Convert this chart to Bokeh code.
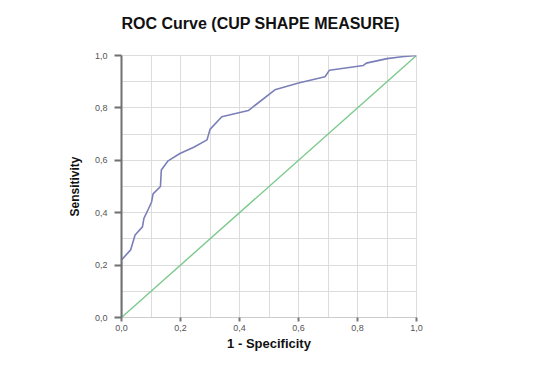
from bokeh.plotting import figure
from bokeh.models import Range1d, FixedTicker, CustomJSTickFormatter, Title
from bokeh.embed import file_html
from bokeh.resources import INLINE

# ROC curve (CUP SHAPE MEASURE) values
fpr = [0.0, 0.0, 0.031, 0.046, 0.071, 0.076, 0.092, 0.102, 0.107, 0.132, 0.135,
       0.158, 0.198, 0.245, 0.29, 0.30, 0.34, 0.43, 0.52, 0.60, 0.69, 0.705,
       0.82, 0.83, 0.90, 0.95, 1.0]
tpr = [0.0, 0.22, 0.258, 0.315, 0.346, 0.378, 0.416, 0.441, 0.472, 0.50, 0.563,
       0.598, 0.626, 0.65, 0.678, 0.718, 0.766, 0.79, 0.869, 0.895, 0.919, 0.944,
       0.962, 0.971, 0.988, 0.995, 1.0]
ref_x = [0.0, 1.0]
ref_y = [0.0, 1.0]

major_ticks = [0.0, 0.2, 0.4, 0.6, 0.8, 1.0]
grid_ticks = [0.0, 0.1, 0.2, 0.3, 0.4, 0.5, 0.6, 0.7, 0.8, 0.9, 1.0]

title_text = "ROC Curve (CUP SHAPE MEASURE)"
x_label = "1 - Specificity"
y_label = "Sensitivity"

FONT = "Liberation Sans"

p = figure(width=525, height=353, output_backend="svg", toolbar_location=None,
           x_range=Range1d(0, 1), y_range=Range1d(0, 1),
           min_border_left=121, min_border_right=109,
           min_border_top=5, min_border_bottom=33)
p.background_fill_color = "white"
p.border_fill_color = "white"
p.outline_line_color = "#dcdcdc"

# top padding (outermost title slot)
p.title.text = " "
p.title.text_font_size = "8px"
p.title.standoff = 0

# gap between title and frame
p.add_layout(Title(text=" ", text_font_size="19px", standoff=0), "above")
# the visible title
p.add_layout(Title(text=title_text, text_font=FONT, text_font_style="bold",
                   text_font_size="16px", text_color="#111111",
                   align="left", offset=0, standoff=2), "above")

# grid every 0.1
for g in (p.xgrid, p.ygrid):
    g.ticker = FixedTicker(ticks=grid_ticks)
    g.grid_line_color = "#dcdcdc"
    g.grid_line_width = 1

fmt = CustomJSTickFormatter(code="return tick.toFixed(1).replace('.', ',');")

for ax in (p.xaxis[0], p.yaxis[0]):
    ax.ticker = FixedTicker(ticks=major_ticks)
    ax.formatter = fmt
    ax.minor_tick_line_color = None
    ax.major_tick_in = 0
    ax.major_label_text_font = FONT
    ax.major_label_text_font_size = "9px"
    ax.major_label_text_color = "#555555"
    ax.axis_label_text_font = FONT
    ax.axis_label_text_font_style = "bold"
    ax.axis_label_text_color = "#111111"

p.xaxis.axis_label = x_label
p.xaxis.axis_label_text_font_size = "13px"
p.xaxis.axis_line_color = "#cccccc"
p.xaxis.major_tick_line_color = "#777777"
p.xaxis.major_tick_line_width = 2
p.xaxis.major_tick_out = 4
p.xaxis.major_label_standoff = 3
p.xaxis.axis_label_standoff = 2

p.yaxis.axis_label = y_label
p.yaxis.axis_label_text_font_size = "12px"
p.yaxis.axis_line_color = "#707070"
p.yaxis.axis_line_width = 2
p.yaxis.major_tick_line_color = "#707070"
p.yaxis.major_tick_line_width = 2
p.yaxis.major_tick_out = 7
p.yaxis.major_label_standoff = 7
p.yaxis.axis_label_standoff = 10

p.line(ref_x, ref_y, line_color="#7cc98c", line_width=1.4)
p.line(fpr, tpr, line_color="#7a7fb8", line_width=1.6)

open("out.html", "w").write(file_html(p, INLINE))
